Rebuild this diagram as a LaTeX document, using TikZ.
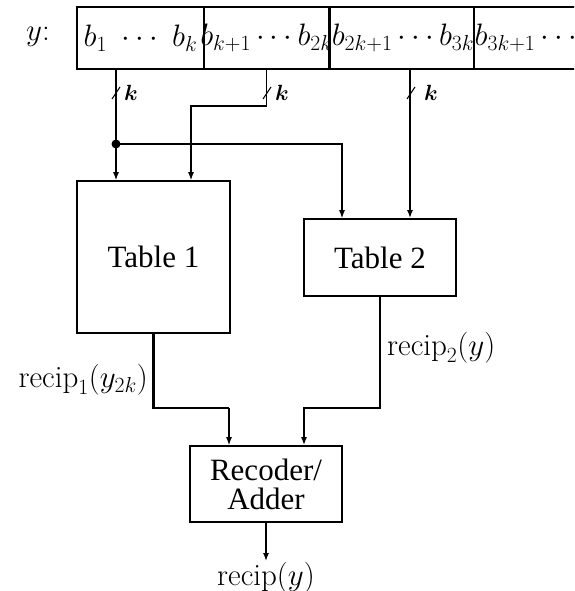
\documentclass[tikz,border=0pt]{standalone}
\usepackage{fix-cm}
\usepackage{amsmath,bm}
\usepackage{fontspec}
\newfontfamily\tabfont{Liberation Serif}
\usetikzlibrary{arrows.meta, positioning, calc}

\begin{document}
\begin{tikzpicture}[x=1pt,y=-1pt,font=\fontsize{31}{29}\selectfont]
\tikzset{
  cell/.style={rectangle,draw=black,line width=1.5pt,minimum height=62pt,inner sep=0pt},
  blk/.style={rectangle,draw=black,line width=1.6pt,inner sep=0pt,font=\tabfont\fontsize{31}{29}\selectfont},
  ar/.style={-{Latex[length=8pt,width=6pt]},line width=1.3pt},
  bus/.style={line width=2.6pt},
  lbl/.style={inner sep=1pt},
  bits/.style={inner sep=0pt},
  kl/.style={inner sep=0pt,font=\fontsize{22}{22}\selectfont}
}
\clip (0,0) rectangle (574,591);
% input word y
\node (yl) at (38,37) {$y$:};
\node[cell,minimum width=127] (c1) at (140.5,38) {};
\node[cell,minimum width=125] (c2) at (266.5,38) {};
\node[cell,minimum width=143] (c3) at (402,38) {};
\node[cell,minimum width=160,anchor=west] (c4) at (473.5,38) {};
\node[bits] (t1) at (c1) {$b_1\ \cdots\ b_k$};
\node[bits] (t2) at (c2) {$b_{k+1}\cdots b_{2k}$};
\node[bits] (t3) at ([xshift=1pt]c3.center) {$b_{2k+1}\cdots b_{3k}$};
\node[bits,anchor=west] (t4) at ([xshift=1pt]c4.west) {$b_{3k+1}\cdots$};
% tables and adder
\node[blk,minimum width=153,minimum height=152] (tab1) at (153.5,257) {Table 1};
\node[blk,minimum width=152,minimum height=77] (tab2) at (380,257.5) {Table 2};
\node[blk,minimum width=152,minimum height=76,align=center] (rec) at (266,484) {Recoder/\\Adder};
\node[lbl,anchor=east] (o1) at (149,380) {$\mathrm{recip}_1(y_{2k})$};
\node[lbl,anchor=west] (o2) at (386,348) {$\mathrm{recip}_2(y)$};
\node[lbl,anchor=north] (out) at (266,561) {$\mathrm{recip}(y)$};
% wiring
\coordinate (j1) at (116,144);
\coordinate (b2) at (191,106);
\coordinate (t2a) at ([xshift=-38pt]tab2.north);
\coordinate (t2b) at ([xshift=30pt]tab2.north);
\coordinate (r1) at ([xshift=-37pt]rec.north);
\coordinate (r2) at ([xshift=38pt]rec.north);
\coordinate (m1) at (0,408);
\draw[ar] (c1.south -| j1) -- (j1 |- tab1.north);
\fill (j1) circle (4.5);
\draw[ar] (c2.south) |- (b2) -- (b2 |- tab1.north);
\draw[ar] (j1) -| (t2a);
\draw[ar,bus] (t2b |- c3.south) -- (t2b);
\foreach \bx/\kx in {116/131,267/282,411/431}{
  \draw[line width=1pt] (\bx-4,99) -- (\bx+4,87);
  \node[kl] (k\bx) at (\kx,93) {$\bm{k}$};
}
\draw[bus] (tab1.south) |- (r1 |- m1);
\draw[ar] (r1 |- m1) -- (r1);
\draw[ar,bus] (tab2.south) |- (r2 |- m1) -- (r2);
\draw[ar] (rec) -- (out);
\end{tikzpicture}
\end{document}
